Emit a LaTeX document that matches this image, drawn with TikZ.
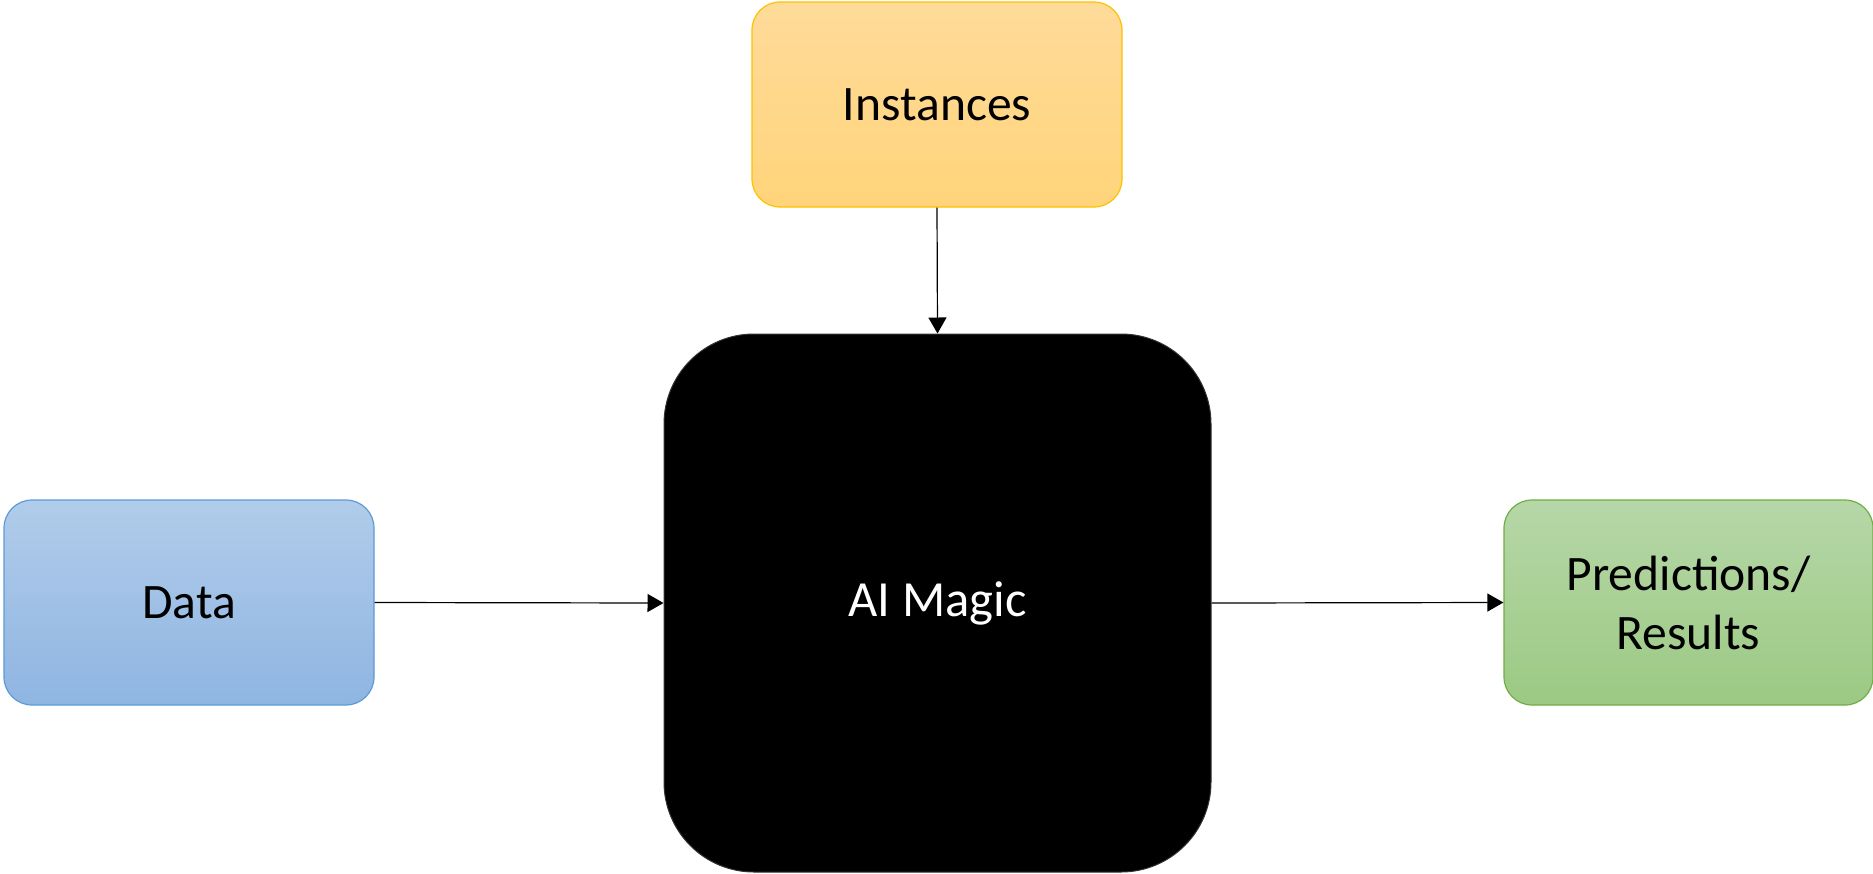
\documentclass[tikz,border=0pt]{standalone}
\usepackage{fontspec}
\setmainfont{Carlito}
\usetikzlibrary{arrows.meta}
\definecolor{insTop}{HTML}{FFDB9A}
\definecolor{insBot}{HTML}{FFD47A}
\definecolor{insLine}{HTML}{FFC000}
\definecolor{datTop}{HTML}{B1CCEA}
\definecolor{datBot}{HTML}{8FB5E2}
\definecolor{datLine}{HTML}{5B9BD5}
\definecolor{preTop}{HTML}{B6D7A8}
\definecolor{preBot}{HTML}{9CC983}
\definecolor{preLine}{HTML}{70AD47}
\tikzset{
  box/.style={rectangle, rounded corners=14pt, line width=0.6pt,
    minimum width=185pt, minimum height=102.5pt, inner sep=0pt,
    font=\fontsize{24.8}{29.5}\selectfont, align=center, text=black},
  magic/.style={rectangle, rounded corners=45pt, fill=black, draw=black!80,
    line width=0.5pt, minimum width=273.5pt, minimum height=269pt,
    font=\fontsize{25.3}{30}\selectfont, text=white},
  conn/.style={line width=0.6pt, -{Triangle[length=8pt,width=9pt]}}
}
\begin{document}
\begin{tikzpicture}[x=0.5pt,y=-0.5pt]
\useasboundingbox (0,0) rectangle (1873,873);
\node[box, draw=insLine, top color=insTop, bottom color=insBot] (ins) at (937,104.5) {Instances};
\node[box, draw=datLine, top color=datTop, bottom color=datBot] (dat) at (189,602.5) {Data};
\node[box, draw=preLine, top color=preTop, bottom color=preBot, minimum width=184.5pt] (pre) at (1688.5,602.5) {Predictions/\\Results};
\node[magic] (mag) at (937.5,603) {AI Magic};
\draw[conn] (ins.south) -- (mag.north);
\draw[conn] (dat.east) -- (mag.west);
\draw[conn] (mag.east) -- (pre.west);
\end{tikzpicture}
\end{document}
